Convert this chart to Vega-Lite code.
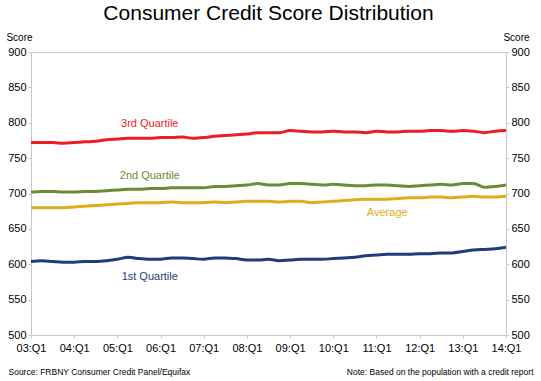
{
  "$schema": "https://vega.github.io/schema/vega-lite/v6.json",
  "width": 475,
  "height": 283,
  "padding": {"left": 5, "right": 5, "top": 3, "bottom": 5},
  "background": "white",
  "title": {"text": "Consumer Credit Score Distribution", "fontSize": 21, "font": "Liberation Sans", "fontWeight": "normal", "color": "#000000", "anchor": "middle", "offset": 8},
  "config": {
    "view": {"stroke": "#c8c8c8", "strokeWidth": 1},
    "font": "Liberation Sans",
    "axis": {"labelFont": "Liberation Sans", "titleFont": "Liberation Sans", "labelFontSize": 11, "labelColor": "#000000", "titleColor": "#000000", "titleFontWeight": "normal", "domainColor": "#c8c8c8", "tickColor": "#c8c8c8", "grid": false}
  },
  "datasets": {
    "scores": [
      {"q": "03:Q1", "q3": 772, "q2": 702, "avg": 680, "q1": 604},
      {"q": "03:Q2", "q3": 772, "q2": 703, "avg": 680, "q1": 605},
      {"q": "03:Q3", "q3": 772, "q2": 703, "avg": 680, "q1": 604},
      {"q": "03:Q4", "q3": 771, "q2": 702, "avg": 680, "q1": 603},
      {"q": "04:Q1", "q3": 772, "q2": 702, "avg": 681, "q1": 603},
      {"q": "04:Q2", "q3": 773, "q2": 703, "avg": 682, "q1": 604},
      {"q": "04:Q3", "q3": 774, "q2": 703, "avg": 683, "q1": 604},
      {"q": "04:Q4", "q3": 776, "q2": 704, "avg": 684, "q1": 605},
      {"q": "05:Q1", "q3": 777, "q2": 705, "avg": 685, "q1": 607},
      {"q": "05:Q2", "q3": 778, "q2": 706, "avg": 686, "q1": 610},
      {"q": "05:Q3", "q3": 778, "q2": 706, "avg": 687, "q1": 608},
      {"q": "05:Q4", "q3": 778, "q2": 707, "avg": 687, "q1": 607},
      {"q": "06:Q1", "q3": 779, "q2": 707, "avg": 687, "q1": 607},
      {"q": "06:Q2", "q3": 779, "q2": 708, "avg": 688, "q1": 609},
      {"q": "06:Q3", "q3": 780, "q2": 708, "avg": 687, "q1": 609},
      {"q": "06:Q4", "q3": 778, "q2": 708, "avg": 687, "q1": 608},
      {"q": "07:Q1", "q3": 779, "q2": 708, "avg": 687, "q1": 607},
      {"q": "07:Q2", "q3": 781, "q2": 710, "avg": 688, "q1": 609},
      {"q": "07:Q3", "q3": 782, "q2": 710, "avg": 687, "q1": 609},
      {"q": "07:Q4", "q3": 783, "q2": 711, "avg": 688, "q1": 608},
      {"q": "08:Q1", "q3": 784, "q2": 712, "avg": 689, "q1": 606},
      {"q": "08:Q2", "q3": 786, "q2": 714, "avg": 689, "q1": 606},
      {"q": "08:Q3", "q3": 786, "q2": 712, "avg": 689, "q1": 607},
      {"q": "08:Q4", "q3": 786, "q2": 712, "avg": 688, "q1": 605},
      {"q": "09:Q1", "q3": 789, "q2": 714, "avg": 689, "q1": 606},
      {"q": "09:Q2", "q3": 788, "q2": 714, "avg": 689, "q1": 607},
      {"q": "09:Q3", "q3": 787, "q2": 713, "avg": 687, "q1": 607},
      {"q": "09:Q4", "q3": 787, "q2": 712, "avg": 688, "q1": 607},
      {"q": "10:Q1", "q3": 788, "q2": 713, "avg": 689, "q1": 608},
      {"q": "10:Q2", "q3": 787, "q2": 712, "avg": 690, "q1": 609},
      {"q": "10:Q3", "q3": 787, "q2": 711, "avg": 691, "q1": 610},
      {"q": "10:Q4", "q3": 786, "q2": 711, "avg": 692, "q1": 612},
      {"q": "11:Q1", "q3": 788, "q2": 712, "avg": 692, "q1": 613},
      {"q": "11:Q2", "q3": 787, "q2": 712, "avg": 692, "q1": 614},
      {"q": "11:Q3", "q3": 787, "q2": 711, "avg": 693, "q1": 614},
      {"q": "11:Q4", "q3": 788, "q2": 710, "avg": 694, "q1": 614},
      {"q": "12:Q1", "q3": 788, "q2": 711, "avg": 694, "q1": 615},
      {"q": "12:Q2", "q3": 789, "q2": 712, "avg": 695, "q1": 615},
      {"q": "12:Q3", "q3": 789, "q2": 713, "avg": 695, "q1": 616},
      {"q": "12:Q4", "q3": 788, "q2": 712, "avg": 694, "q1": 616},
      {"q": "13:Q1", "q3": 789, "q2": 714, "avg": 695, "q1": 618},
      {"q": "13:Q2", "q3": 788, "q2": 714, "avg": 696, "q1": 620},
      {"q": "13:Q3", "q3": 786, "q2": 709, "avg": 695, "q1": 621},
      {"q": "13:Q4", "q3": 788, "q2": 710, "avg": 695, "q1": 622},
      {"q": "14:Q1", "q3": 789, "q2": 712, "avg": 696, "q1": 624}
    ],
    "labels": [
      {"q": "05:Q4", "v": 798, "series": "q3", "label": "3rd Quartile"},
      {"q": "05:Q4", "v": 725, "series": "q2", "label": "2nd Quartile"},
      {"q": "11:Q2", "v": 673, "series": "avg", "label": "Average"},
      {"q": "05:Q4", "v": 582, "series": "q1", "label": "1st Quartile"}
    ]
  },
  "layer": [
    {
      "data": {"name": "scores"},
      "transform": [{"fold": ["q3", "q2", "avg", "q1"], "as": ["series", "v"]}],
      "mark": {"type": "line", "strokeWidth": 3, "interpolate": "monotone"},
      "encoding": {
        "x": {"field": "q", "type": "ordinal", "scale": {"type": "point", "padding": 0},
          "axis": {"orient": "bottom", "labelAngle": 0, "values": ["03:Q1","04:Q1","05:Q1","06:Q1","07:Q1","08:Q1","09:Q1","10:Q1","11:Q1","12:Q1","13:Q1","14:Q1"],
            "tickSize": 3, "labelPadding": 4, "domain": false,
            "title": "Source: FRBNY Consumer Credit Panel/Equifax", "titleFontSize": 8.5, "titleAlign": "left", "titleAnchor": "start", "titleX": -23, "titleY": 36, "titleBaseline": "middle"}},
        "y": {"field": "v", "type": "quantitative", "scale": {"domain": [500, 900], "zero": false, "nice": false},
          "axis": {"orient": "left", "values": [500,550,600,650,700,750,800,850,900], "tickSize": 3, "labelPadding": 2, "domain": false,
            "title": "Score", "titleAngle": 0, "titleFontSize": 10, "titleAlign": "center", "titleBaseline": "middle", "titleX": -12, "titleY": -15}},
        "color": {"field": "series", "type": "nominal", "scale": {"domain": ["q3", "q2", "avg", "q1"], "range": ["#ee1c25", "#6b8c35", "#e0ac1c", "#1f3c7b"]}, "legend": null}
      }
    },
    {
      "data": {"name": "labels"},
      "mark": {"type": "text", "fontSize": 11, "font": "Liberation Sans"},
      "encoding": {
        "x": {"field": "q", "type": "ordinal",
          "axis": {"orient": "bottom", "labels": false, "ticks": false, "domain": false,
            "title": "Note:  Based on the population with a credit report", "titleFontSize": 8.5, "titleAlign": "right", "titleX": 502, "titleY": 36, "titleBaseline": "middle"}},
        "y": {"field": "v", "type": "quantitative",
          "axis": {"orient": "right", "values": [500,550,600,650,700,750,800,850,900], "tickSize": 3, "labelPadding": 2, "domain": false,
            "title": "Score", "titleAngle": 0, "titleFontSize": 10, "titleAlign": "center", "titleBaseline": "middle", "titleX": 10, "titleY": -15}},
        "color": {"field": "series", "type": "nominal", "legend": null},
        "text": {"field": "label"}
      }
    }
  ],
  "resolve": {"axis": {"x": "independent", "y": "independent"}}
}
